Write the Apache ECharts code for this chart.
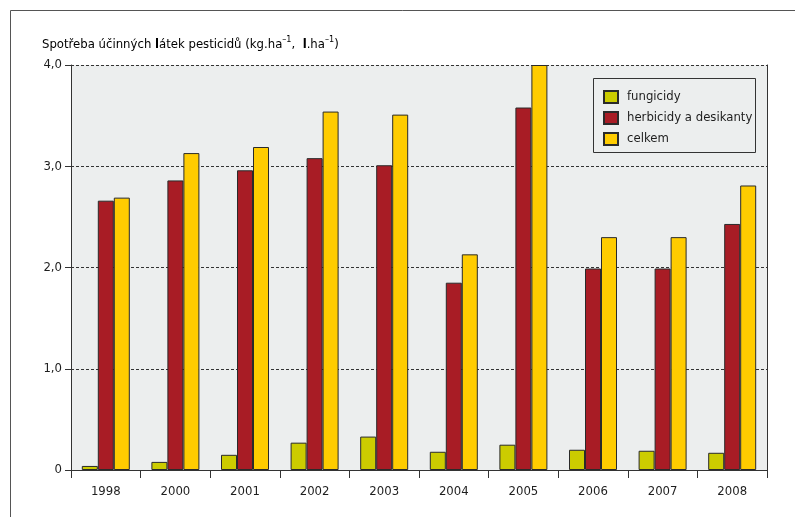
<!DOCTYPE html>
<html>
<head>
<meta charset="utf-8">
<script src="https://cdn.jsdelivr.net/npm/echarts@6/dist/echarts.min.js"></script>
<style>
  html, body { margin: 0; padding: 0; background: #fff; }
  #chart { width: 795px; height: 517px; }
</style>
</head>
<body>
<div id="chart"></div>
<script>
// Pesticide active-substance consumption by year
const years = ['1998', '2000', '2001', '2002', '2003', '2004', '2005', '2006', '2007', '2008'];
const fungicidy = [0.04, 0.08, 0.15, 0.27, 0.33, 0.18, 0.25, 0.20, 0.19, 0.17];
const herbicidy = [2.66, 2.86, 2.96, 3.08, 3.01, 1.85, 3.58, 1.99, 1.99, 2.43];
const celkem = [2.69, 3.13, 3.19, 3.54, 3.51, 2.13, 4.00, 2.30, 2.30, 2.81];
const seriesNames = ['fungicidy', 'herbicidy a desikanty', 'celkem'];
const yTicks = ['0', '1,0', '2,0', '3,0', '4,0'];

const FONT = '"DejaVu Sans Condensed", "Liberation Sans Narrow", "Roboto", sans-serif';
const INK = '#1e1e1e';
const FS = 13;

const chart = echarts.init(document.getElementById('chart'), null, { renderer: 'canvas' });

function barSeries(name, data, color) {
  return {
    name: name,
    type: 'bar',
    data: data,
    barWidth: 16,
    barGap: '0%',
    itemStyle: { color: color, borderColor: '#2a2a2a', borderWidth: 1 },
    emphasis: { disabled: true }
  };
}

chart.setOption({
  animation: false,
  backgroundColor: '#ffffff',
  textStyle: { fontFamily: FONT },
  grid: {
    left: 71, right: 28, top: 65, bottom: 47,
    show: true, backgroundColor: '#eceeee', borderWidth: 0
  },
  legend: {
    orient: 'vertical',
    left: 598, top: 85,
    icon: 'rect',
    itemWidth: 14, itemHeight: 12, itemGap: 7,
    data: seriesNames,
    textStyle: { fontFamily: FONT, fontSize: FS, color: INK, padding: [0, 0, 0, 4] }
  },
  xAxis: {
    type: 'category',
    data: years,
    boundaryGap: true,
    axisLine: { show: true, lineStyle: { color: '#333', width: 1 } },
    axisTick: { show: true, length: 8, lineStyle: { color: '#333' } },
    axisLabel: { fontFamily: FONT, fontSize: FS, color: INK, margin: 15 },
    splitLine: { show: false }
  },
  yAxis: [{
    type: 'value',
    min: 0, max: 4, interval: 1,
    axisLine: { show: true, lineStyle: { color: '#333', width: 1 } },
    axisTick: { show: true, length: 6, lineStyle: { color: '#333' } },
    axisLabel: {
      fontFamily: FONT, fontSize: FS, color: INK, margin: 9,
      formatter: function (v) { return yTicks[Math.round(v)]; }
    },
    splitLine: { show: true, lineStyle: { color: '#333', type: [3, 2], width: 1 } }
  }, {
    type: 'value',
    position: 'right',
    min: 0, max: 4, interval: 1,
    axisLine: { show: true, lineStyle: { color: '#333', width: 1 } },
    axisTick: { show: false },
    axisLabel: { show: false },
    splitLine: { show: false }
  }],
  series: [
    barSeries(seriesNames[0], fungicidy, '#cccc00'),
    barSeries(seriesNames[1], herbicidy, '#a81c25'),
    barSeries(seriesNames[2], celkem, '#ffcc00')
  ],
  graphic: [
    // outer frame: top and left rules
    { type: 'line', shape: { x1: 10.5, y1: 10.5, x2: 795, y2: 10.5 }, style: { stroke: '#555', lineWidth: 1 }, z: 10 },
    { type: 'line', shape: { x1: 10.5, y1: 10.5, x2: 10.5, y2: 517 }, style: { stroke: '#555', lineWidth: 1 }, z: 10 },
    // legend box
    { type: 'rect', shape: { x: 593.5, y: 78.5, width: 162, height: 74 }, style: { fill: '#eceeee', stroke: '#333', lineWidth: 1 }, z: 1 },
    // axis title
    {
      type: 'text', left: 42, top: 35, z: 10,
      style: {
        text: '{a|Spotřeba účinných }{b|l}{a|átek pesticidů (kg.ha}{s|–1}{a|,  }{b|l}{a|.ha}{s|–1}{a|)}',
        rich: {
          a: { fontFamily: FONT, fontSize: FS, color: INK, lineHeight: 16, verticalAlign: 'bottom' },
          b: { fontFamily: FONT, fontSize: FS, fontWeight: 'bold', color: INK, lineHeight: 16, verticalAlign: 'bottom' },
          s: { fontFamily: FONT, fontSize: 9, color: INK, lineHeight: 16, verticalAlign: 'top' }
        }
      }
    }
  ]
});
</script>
</body>
</html>
